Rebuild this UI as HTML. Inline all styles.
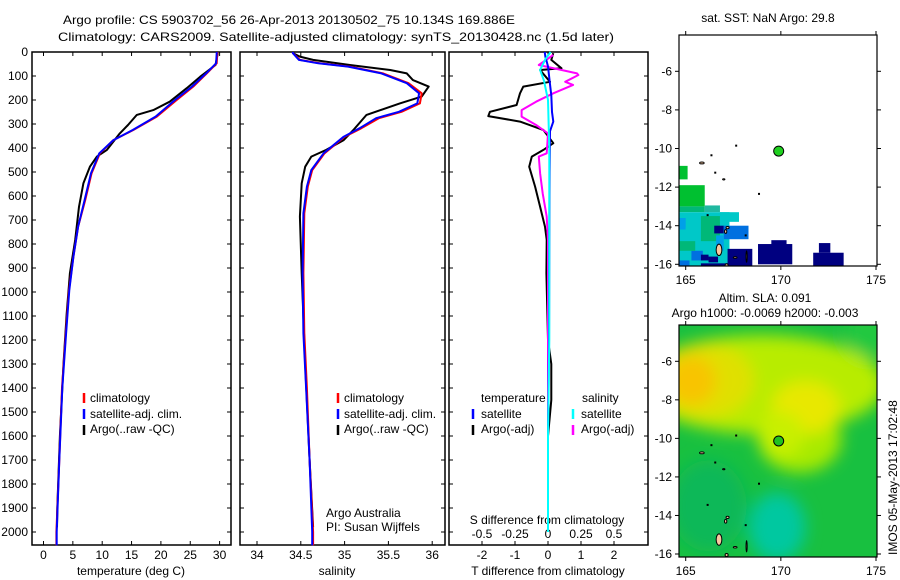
<!DOCTYPE html>
<html><head><meta charset="utf-8">
<style>
html,body{margin:0;padding:0;background:#fff;}
svg{display:block;font-family:"Liberation Sans",sans-serif;font-size:12px;}
</style></head>
<body>
<svg id="fig" width="900" height="580" viewBox="0 0 900 580" xmlns="http://www.w3.org/2000/svg">
<defs>
<filter id="blur" x="-20%" y="-20%" width="140%" height="140%"><feGaussianBlur stdDeviation="8"/></filter>
<clipPath id="clipSla"><rect x="679" y="325" width="198" height="232"/></clipPath>
<clipPath id="clipSst"><rect x="679" y="35" width="198" height="231"/></clipPath>
</defs>
<text x="63" y="24" textLength="452" lengthAdjust="spacingAndGlyphs">Argo profile: CS 5903702_56 26-Apr-2013 20130502_75 10.134S 169.886E</text>
<text x="58" y="41" textLength="556" lengthAdjust="spacingAndGlyphs">Climatology: CARS2009. Satellite-adjusted climatology: synTS_20130428.nc (1.5d later)</text>
<g id="g"></g>
</svg>
<script>
// ---------- data ----------
const depthTicks = [0,100,200,300,400,500,600,700,800,900,1000,1100,1200,1300,1400,1500,1600,1700,1800,1900,2000];
const tempTicks = [0,5,10,15,20,25,30];
const salTicks = [34,34.5,35,35.5,36];
const tdiffTicks = [-2,-1,0,1,2];
const sdiffTicks = [-0.5,-0.25,0,0.25,0.5];
const sdiffTickLabels = ["-0.5","-0.25","0","0.25","0.5"];

const climDepth = [0,5,47,89,144,200,269,325,367,422,505,617,728,853,992,1172,1400,1700,2000,2055];
const tempClim = [29.6,29.6,29.5,27.8,25.5,22.7,19.3,15.3,11.9,9.6,8.2,7.1,5.9,5.1,4.35,3.8,3.15,2.7,2.2,2.2];
const tempSatAdj = [29.5,29.5,29.4,27.7,25.3,22.4,19.1,15.2,11.9,9.5,8.1,7.0,5.9,5.1,4.4,3.85,3.2,2.7,2.25,2.25];
const salDepth = [0,5,33,47,61,89,130,172,214,249,276,318,353,422,492,561,672,922,1172,1400,1700,2000,2055];
const salClim = [34.41,34.41,34.49,34.72,35.06,35.44,35.73,35.88,35.86,35.65,35.39,35.19,35.0,34.77,34.63,34.58,34.54,34.53,34.54,34.57,34.6,34.64,34.64];
const salSatAdj = [34.41,34.41,34.48,34.7,35.04,35.42,35.71,35.85,35.83,35.62,35.36,35.17,34.99,34.76,34.62,34.57,34.53,34.52,34.53,34.56,34.6,34.63,34.63];

const argoDepth = [5,54,103,151,207,242,262,304,339,408,436,478,547,645,783,922,1089,1300,1600,1900,1980];
const tempArgo = [29.7,29.3,26.7,24.4,21.5,18.7,15.9,14.4,13.0,10.8,9.1,7.9,6.8,6.05,5.4,4.5,3.95,3.4,2.8,2.35,2.3];
const salArgoDepth = [5,19,33,54,75,89,117,144,186,214,262,325,367,408,436,478,547,686,922,1300,1700,1980];
const salArgo = [34.41,34.49,34.64,35.06,35.52,35.71,35.78,35.96,35.88,35.63,35.25,35.1,34.99,34.79,34.62,34.55,34.51,34.49,34.51,34.55,34.6,34.64];

const tdDepth = [5,33,68,75,124,144,172,221,249,267,290,325,380,408,436,478,561,645,728,783,922,1200,1300,1450,1600,1980];
const tdArgo = [0.16,0.1,0.41,-0.24,0.06,-0.75,-0.85,-0.95,-1.76,-1.81,-0.85,-0.14,0.16,-0.14,-0.49,-0.57,-0.39,-0.24,-0.09,-0.04,-0.05,0.0,0.1,0.1,0.0,0.0];
const sdDepth = [12,54,89,96,124,137,172,207,242,269,304,339,422,436,505,589,686,783,1980];
const sdArgo = [0.04,-0.07,0.22,0.23,0.13,0.19,0.04,-0.09,-0.2,-0.2,-0.09,0.0,-0.01,-0.07,-0.06,-0.04,-0.01,0.0,0.0];
const tsDepth = [0,20,60,120,180,250,290,330,500,800,1200,1600,2000];
const tdSat = [-0.1,-0.08,0.0,0.05,0.1,0.12,0.16,0.06,0.05,0.04,0.03,0.0,0.0];
const ssDepth = [0,30,75,120,200,400,800,1200,1600,2000];
const sdSat = [0.02,-0.02,-0.06,-0.03,0.0,0.01,0.01,0.01,0.0,0.0];

// SST map cells: lon0, lat0(top), lon1, lat1(bottom), colour index
const sstColors = ["#00c030","#00b878","#00c8c8","#00a0e8","#0070e0","#000080","#20b8a0"];
const sstCells = [
 [164.6,-10.9,165.1,-11.6,0],[164.6,-11.9,166.0,-13.0,0],[166.0,-12.95,166.8,-13.3,6],[164.6,-13.0,166.0,-13.3,1],
 [164.6,-13.3,167.3,-16.1,2],[165.8,-13.5,166.8,-14.8,1],[166.8,-13.3,167.8,-13.8,2],[164.6,-13.6,165.0,-14.2,3],
 [165.0,-14.1,165.6,-14.5,2],[166.5,-14.0,167.0,-14.4,5],[167.0,-14.0,168.3,-14.7,4],[165.3,-15.3,165.9,-15.8,4],
 [165.8,-15.5,166.2,-15.8,5],[166.2,-15.6,166.7,-15.9,5],[164.6,-15.8,165.2,-16.1,4],[165.8,-15.95,167.3,-16.1,5],
 [167.2,-15.2,168.5,-16.1,5],[168.8,-14.95,170.6,-16.0,5],[169.5,-14.75,170.3,-15.0,5],[171.7,-15.4,173.3,-16.1,5],[172.0,-14.9,172.6,-15.4,5],
 [166.6,-14.5,167.0,-15.3,3],[164.6,-14.8,165.5,-15.3,1]
];
// SLA map blobs: lon, lat, rx(deg), ry(deg), colour
const slaBlobs = [
 [169.0,-7.2,6.5,2.6,"#b8ec00"],[171.0,-10.0,2.2,1.8,"#a8ea00"],[166.0,-7.0,2.6,2.0,"#e0e000"],[165.3,-7.0,1.3,1.3,"#f8c400"],
 [171.3,-8.4,1.8,1.4,"#e8e800"],[170.0,-9.8,1.2,1.2,"#c8f000"],[174.6,-4.5,1.2,1.3,"#20c840"],
 [169.8,-14.6,1.5,1.8,"#00c8a0"],[166.2,-13.5,2.0,2.4,"#10b858"]
];
const argoLon = 169.886, argoLat = -10.134;

// ---------- helpers ----------
const NS="http://www.w3.org/2000/svg";
const G=document.getElementById('g');
function mk(tag,attrs,parent){const e=document.createElementNS(NS,tag);for(const k in attrs)e.setAttribute(k,attrs[k]);(parent||G).appendChild(e);return e;}
const Y0=52, YS=0.24;
const yD = d => Y0 + d*YS;
const xT = t => 43.5 + t*5.87;
const xS = s => 257 + (s-34)*87.6;
const xTd = v => 548 + v*33;
const xSd = v => 548 + v*132;
const PTOP=52, PBOT=545;
function panel(x0,x1,name){
  const r=mk('rect',{x:x0,y:PTOP,width:x1-x0,height:PBOT-PTOP,fill:'none',stroke:'#000','stroke-width':1.5});
  
  
  depthTicks.forEach(d=>{mk('line',{x1:x0,x2:x0+4,y1:yD(d),y2:yD(d),stroke:'#000'});mk('line',{x1:x1-4,x2:x1,y1:yD(d),y2:yD(d),stroke:'#000'});});
}
function line(xs,ds,xf,col,name,w){
  const pts=xs.map((v,i)=>xf(v).toFixed(1)+','+yD(ds[i]).toFixed(1)).join(' ');
  const p=mk('polyline',{points:pts,fill:'none',stroke:col,'stroke-width':w||2,'stroke-linejoin':'round'});
  
  
}
function txt(x,y,s,name,opts){
  const t=mk('text',Object.assign({x:x,y:y},opts||{}));t.textContent=s;
  
  
  return t;
}
function legendMark(x,y,col){mk('line',{x1:x,x2:x,y1:y-10,y2:y,stroke:col,'stroke-width':2.5});}

// ---------- panel 1: temperature ----------
panel(32,231,'temperature-panel');
depthTicks.forEach(d=>txt(28,yD(d)+4,String(d),'depth-tick-label',{'text-anchor':'end'}));
tempTicks.forEach(t=>{mk('line',{x1:xT(t),x2:xT(t),y1:PTOP,y2:PTOP+4,stroke:'#000'});mk('line',{x1:xT(t),x2:xT(t),y1:PBOT-4,y2:PBOT,stroke:'#000'});txt(xT(t),559,String(t),'temperature-tick-label',{'text-anchor':'middle'});});
txt(131,575,'temperature (deg C)','temperature-axis-title',{'text-anchor':'middle'});
line(tempArgo,argoDepth,xT,'#000','argo-temperature-line');
line(tempClim,climDepth,xT,'#f00','climatology-temperature-line');
line(tempSatAdj,climDepth,xT,'#00f','satellite-temperature-line');
legendMark(84,403,'#f00');txt(90,402,'climatology','legend-climatology');
legendMark(84,419,'#00f');txt(90,418,'satellite-adj. clim.','legend-satellite-adj');
legendMark(84,435,'#000');txt(90,433,'Argo(..raw -QC)','legend-argo');

// ---------- panel 2: salinity ----------
panel(240,445,'salinity-panel');
salTicks.forEach(s=>{mk('line',{x1:xS(s),x2:xS(s),y1:PTOP,y2:PTOP+4,stroke:'#000'});mk('line',{x1:xS(s),x2:xS(s),y1:PBOT-4,y2:PBOT,stroke:'#000'});txt(xS(s),559,String(s),'salinity-tick-label',{'text-anchor':'middle'});});
txt(337,575,'salinity','salinity-axis-title',{'text-anchor':'middle'});
line(salArgo,salArgoDepth,xS,'#000','argo-salinity-line');
line(salClim,salDepth,xS,'#f00','climatology-salinity-line');
line(salSatAdj,salDepth,xS,'#00f','satellite-salinity-line');
legendMark(338,403,'#f00');txt(344,402,'climatology','legend-climatology');
legendMark(338,419,'#00f');txt(344,418,'satellite-adj. clim.','legend-satellite-adj');
legendMark(338,435,'#000');txt(344,433,'Argo(..raw -QC)','legend-argo');
txt(326,517,'Argo Australia','credit-argo-australia');
txt(326,531,'PI: Susan Wijffels','credit-pi');

// ---------- panel 3: differences ----------
panel(449,648,'difference-panel');
tdiffTicks.forEach(v=>{mk('line',{x1:xTd(v),x2:xTd(v),y1:PTOP,y2:PTOP+4,stroke:'#000'});mk('line',{x1:xTd(v),x2:xTd(v),y1:PBOT-4,y2:PBOT,stroke:'#000'});txt(xTd(v),559,String(v),'tdiff-tick-label',{'text-anchor':'middle'});});
sdiffTicks.forEach((v,i)=>txt(xSd(v),538,sdiffTickLabels[i],'sdiff-tick-label',{'text-anchor':'middle'}));
txt(547,524,'S difference from climatology','sdiff-axis-title',{'text-anchor':'middle'});
txt(548,575,'T difference from climatology','tdiff-axis-title',{'text-anchor':'middle'});
line(tdArgo,tdDepth,xTd,'#000','argo-tdiff-line');
line(sdArgo,sdDepth,xSd,'#f0f','argo-sdiff-line');
line(tdSat,tsDepth,xTd,'#00f','satellite-tdiff-line');
line(sdSat,ssDepth,xSd,'#0ff','satellite-sdiff-line');
txt(481,402,'temperature','legend-temperature-header');
txt(582,402,'salinity','legend-salinity-header');
legendMark(473,419,'#00f');txt(481,418,'satellite','legend-t-satellite');
legendMark(473,435,'#000');txt(481,433,'Argo(-adj)','legend-t-argo');
legendMark(573,419,'#0ff');txt(581,418,'satellite','legend-s-satellite');
legendMark(573,435,'#f0f');txt(581,433,'Argo(-adj)','legend-s-argo');

// ---------- maps ----------
const mX = lon => 685.7 + (lon-165)*19.03;
function mapAxes(top,bot,yLat,name){
  const r=mk('rect',{x:679,y:top,width:198,height:bot-top,fill:'none',stroke:'#000','stroke-width':1.2});
  
  
  [165,170,175].forEach(l=>{mk('line',{x1:mX(l),x2:mX(l),y1:top-4,y2:top,stroke:'#000'});mk('line',{x1:mX(l),x2:mX(l),y1:bot,y2:bot+4,stroke:'#000'});txt(mX(l),bot+18,String(l),'lon-tick-label',{'text-anchor':'middle'});});
  [-6,-8,-10,-12,-14,-16].forEach(l=>{mk('line',{x1:675,x2:679,y1:yLat(l),y2:yLat(l),stroke:'#000'});mk('line',{x1:877,x2:881,y1:yLat(l),y2:yLat(l),stroke:'#000'});txt(672,yLat(l)+4,String(l),'lat-tick-label',{'text-anchor':'end'});});
}
function islands(yLat,g){
  const isl=[[166.75,-15.25,0.15,0.3],[167.1,-14.3,0.06,0.1],[167.2,-14.1,0.08,0.06],[168.2,-15.6,0.03,0.3],[167.6,-15.65,0.1,0.04],[167.15,-16.05,0.08,0.08],[165.85,-10.75,0.12,0.05],[167.0,-11.6,0.06,0.03]];
  isl.forEach(s=>mk('ellipse',{cx:mX(s[0]),cy:yLat(s[1]),rx:s[2]*19,ry:s[3]*19,fill:'#f8c8a0',stroke:'#000','stroke-width':1},g));
  [[166.3,-10.3],[166.5,-11.2],[167.6,-9.8],[168.8,-12.3],[166.1,-13.4],[168.1,-14.45]].forEach(p=>mk('rect',{x:mX(p[0]),y:yLat(p[1]),width:2,height:2,fill:'#000'},g));
}
// top SST map
const yA = lat => 71.3 + (-6-lat)*19.3;
txt(768,22,'sat. SST: NaN Argo: 29.8','sst-map-title',{'text-anchor':'middle'});
const gs=mk('g',{'clip-path':'url(#clipSst)'});
sstCells.forEach(c=>{const r=mk('rect',{x:mX(c[0]),y:yA(c[1]),width:(c[2]-c[0])*19.03,height:(c[1]-c[3])*19.3,fill:sstColors[c[4]]},gs);
  
  });
islands(yA,gs);
mapAxes(35,266,yA,'sst-map-frame');
const d1=mk('circle',{cx:mX(argoLon),cy:yA(argoLat),r:5,fill:'#20d020',stroke:'#000','stroke-width':1});



// bottom SLA map
const yB = lat => 361.3 + (-6-lat)*19.27;
txt(765,302,'Altim. SLA: 0.091','sla-map-title',{'text-anchor':'middle'});
txt(765,317,'Argo h1000: -0.0069 h2000: -0.003','sla-map-subtitle',{'text-anchor':'middle'});
const gb=mk('g',{'clip-path':'url(#clipSla)'});
mk('rect',{x:679,y:325,width:198,height:232,fill:'#18c040'},gb);
const gbb=mk('g',{filter:'url(#blur)'},gb);
slaBlobs.forEach(b=>{const e=mk('ellipse',{cx:mX(b[0]),cy:yB(b[1]),rx:b[2]*19,ry:b[3]*19,fill:b[4]},gbb);
  
  });
islands(yB,gb);
mapAxes(325,557,yB,'sla-map-frame');
const d2=mk('circle',{cx:mX(argoLon),cy:yB(argoLat),r:5,fill:'#20c020',stroke:'#000','stroke-width':1});


const side=txt(0,0,'IMOS 05-May-2013 17:02:48','imos-timestamp',{transform:'translate(897,555) rotate(-90)'});
</script>
</body></html>
